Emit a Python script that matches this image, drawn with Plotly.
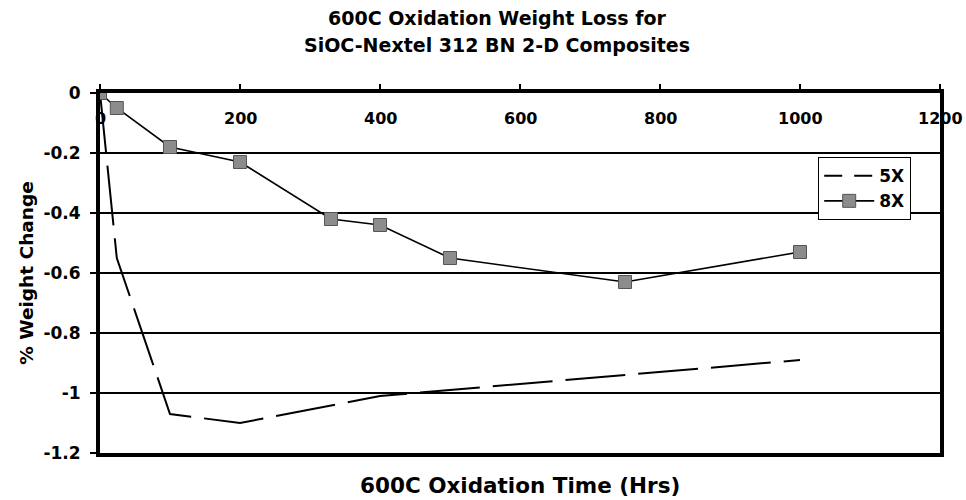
import plotly.graph_objects as go

# Data
hours_5x = [0, 24, 100, 200, 400, 500, 750, 1000]
change_5x = [0, -0.55, -1.07, -1.10, -1.01, -0.99, -0.94, -0.89]

hours_8x = [0, 24, 100, 200, 330, 400, 500, 750, 1000]
change_8x = [0, -0.05, -0.18, -0.23, -0.42, -0.44, -0.55, -0.63, -0.53]

x_ticks = [0, 200, 400, 600, 800, 1000, 1200]
y_ticks = [0, -0.2, -0.4, -0.6, -0.8, -1.0, -1.2]
y_tick_labels = ["0", "-0.2", "-0.4", "-0.6", "-0.8", "-1", "-1.2"]

title_lines = ["600C Oxidation Weight Loss for", "SiOC-Nextel 312 BN 2-D Composites"]
x_title = "600C Oxidation Time (Hrs)"
y_title = "% Weight Change"

FONT = "DejaVu Sans, Verdana, sans-serif"

fig = go.Figure()
fig.add_trace(go.Scatter(
    x=hours_5x, y=change_5x, name="5X", mode="lines", showlegend=False,
    line=dict(color="black", width=2, dash="60px,13px"),
))
# legend-only entry for 5X with a shorter dash so the legend shows the dashes
fig.add_trace(go.Scatter(
    x=[None], y=[None], name="<b>5X</b>", mode="lines",
    line=dict(color="black", width=2, dash="18px,12px"),
))
fig.add_trace(go.Scatter(
    x=hours_8x, y=change_8x, name="<b>8X</b>", mode="lines+markers",
    line=dict(color="black", width=1.6),
    marker=dict(symbol="square", size=13, color="#8c8c8c",
                line=dict(color="#555555", width=1)),
))

annotations = []
for i, line in enumerate(title_lines):
    annotations.append(dict(
        text="<b>%s</b>" % line, xref="paper", yref="paper",
        x=(497 - 100) / 840, y=1.208 - i * 0.075, xanchor="center", yanchor="middle",
        showarrow=False, font=dict(size=19, family=FONT, color="black"),
    ))
annotations.append(dict(
    text="<b>%s</b>" % x_title, xref="paper", yref="paper",
    x=0.5, y=-0.089, xanchor="center", yanchor="middle", showarrow=False,
    font=dict(size=21.5, family=FONT, color="black"),
))
# x tick labels sit just below the x axis, which crosses at y = 0
for v in x_ticks:
    annotations.append(dict(
        text="<b>%d</b>" % v, xref="x", yref="y", x=v, y=0,
        xanchor="center", yanchor="middle", yshift=-25, showarrow=False,
        font=dict(size=16, family=FONT, color="black"),
    ))

fig.update_layout(
    width=966, height=500,
    margin=dict(l=100, r=26, t=93, b=47),
    paper_bgcolor="white", plot_bgcolor="white",
    font=dict(family=FONT, color="black"),
    showlegend=True,
    legend=dict(
        x=(818 - 100) / 840, y=(453 - 157) / 360, xanchor="left", yanchor="top",
        bgcolor="white", bordercolor="black", borderwidth=1.2,
        font=dict(size=17, family=FONT, color="black"),
        itemwidth=50, tracegroupgap=2,
    ),
    xaxis=dict(
        range=[0, 1200], tickvals=x_ticks, showticklabels=False,
        side="top", ticks="outside", ticklen=5, tickwidth=2, tickcolor="black",
        showline=True, linecolor="black", linewidth=3.5, mirror=True,
        showgrid=False, zeroline=False,
    ),
    yaxis=dict(
        range=[-1.2, 0], tickvals=y_ticks,
        ticktext=["<b>%s</b>" % t for t in y_tick_labels],
        ticks="outside", ticklen=6, tickwidth=2, tickcolor="black",
        ticklabelstandoff=6,
        tickfont=dict(size=17, family=FONT, color="black"),
        showline=True, linecolor="black", linewidth=4, mirror=True,
        showgrid=True, gridcolor="black", gridwidth=1.6, zeroline=False,
        title=dict(text="<b>%s</b>" % y_title, standoff=6,
                   font=dict(size=18.5, family=FONT, color="black")),
    ),
    annotations=annotations,
)

fig.write_html("out.html", config={"displayModeBar": False},
               post_script="document.body.style.margin='0px';")
